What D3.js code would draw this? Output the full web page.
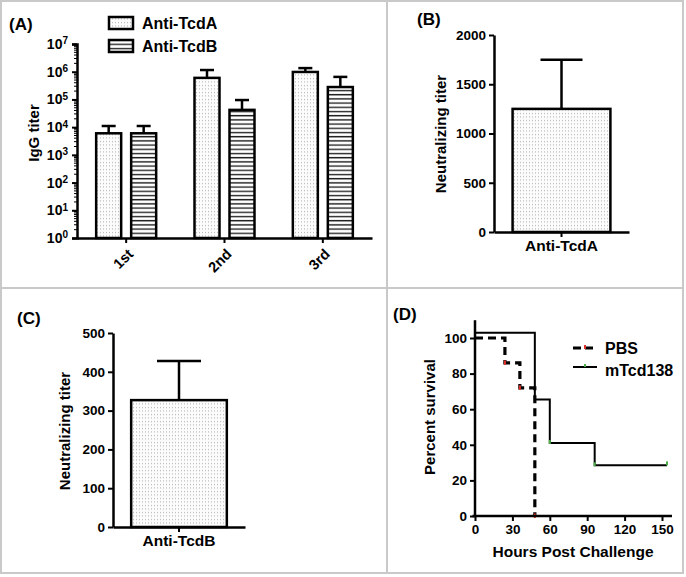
<!DOCTYPE html>
<html><head><meta charset="utf-8">
<script src="https://cdn.jsdelivr.net/npm/d3@7"></script>
<style>body{margin:0;background:#fff}svg text{font-family:"Liberation Sans",Arial,sans-serif}</style>
</head><body><svg id="c" width="686" height="577"></svg>
<script>
// ---------- data ----------
const roundLabels = ["1st", "2nd", "3rd"];
const seriesNames = ["Anti-TcdA", "Anti-TcdB"];
const iggTcdA = [6000, 600000, 980000];
const iggTcdAUpper = [11000, 1150000, 1350000];
const iggTcdB = [6000, 42000, 280000];
const iggTcdBUpper = [11000, 95000, 650000];
const logTickExps = [0, 1, 2, 3, 4, 5, 6, 7];

const neutCatB = ["Anti-TcdA"];
const neutValB = [1250];
const neutUpperB = [1750];
const neutTicksB = [0, 500, 1000, 1500, 2000];

const neutCatC = ["Anti-TcdB"];
const neutValC = [327];
const neutUpperC = [428];
const neutTicksC = [0, 100, 200, 300, 400, 500];

const pbsHours = [0, 24, 36, 48];
const pbsSurvival = [100, 86, 72, 0];
const pbsMarks = [[24, 86], [36, 72], [48, 0]];
const mtcdHours = [0, 48, 60, 96, 154];
const mtcdSurvival = [103, 65.5, 41, 28.5, 28.5];
const mtcdMarks = [[60, 41], [96, 28.5], [154, 29]];
const survXTicks = [0, 30, 60, 90, 120, 150];
const survYTicks = [0, 20, 40, 60, 80, 100];

// ---------- setup ----------
const svg = d3.select("#c");
const defs = svg.append("defs");
const dots = defs.append("pattern").attr("id", "dots").attr("patternUnits", "userSpaceOnUse").attr("width", 3).attr("height", 3.5);
dots.append("rect").attr("width", 3).attr("height", 3.5).attr("fill", "#fcfcfc");
dots.append("rect").attr("x", 1).attr("y", 1).attr("width", 1).attr("height", 1).attr("fill", "#a8a8a8");
const stripes = defs.append("pattern").attr("id", "stripes").attr("patternUnits", "userSpaceOnUse").attr("width", 4).attr("height", 4.2);
stripes.append("rect").attr("width", 4).attr("height", 4.2).attr("fill", "#fff");
stripes.append("rect").attr("y", 1.6).attr("width", 4).attr("height", 1.4).attr("fill", "#222");
const fills = {"Anti-TcdA": "url(#dots)", "Anti-TcdB": "url(#stripes)"};

// frame and dividers
const frameColor = "#c9c9c9";
svg.append("rect").attr("x", 1).attr("y", 1).attr("width", 682).attr("height", 572).attr("fill", "none").attr("stroke", frameColor).attr("stroke-width", 2);
svg.append("line").attr("x1", 1).attr("x2", 683).attr("y1", 288).attr("y2", 288).attr("stroke", frameColor).attr("stroke-width", 2);
svg.append("line").attr("x1", 387).attr("x2", 387).attr("y1", 1).attr("y2", 573).attr("stroke", frameColor).attr("stroke-width", 2);

const AX = 2.5;
function styleAxis(g) {
  g.selectAll("path.domain").attr("stroke", "#000").attr("stroke-width", AX);
  g.selectAll(".tick line").attr("stroke", "#000").attr("stroke-width", 2);
  g.selectAll(".tick text").attr("font-size", 13.5).attr("font-weight", "bold").attr("fill", "#000");
}
function panelLabel(t, x, y) {
  svg.append("text").attr("x", x).attr("y", y).text(t).attr("font-size", 17).attr("font-weight", "bold");
}
function yTitle(t, x, y) {
  svg.append("text").attr("transform", `translate(${x},${y}) rotate(-90)`).attr("text-anchor", "middle")
    .text(t).attr("font-size", 15).attr("font-weight", "bold");
}

// ---------- Panel A ----------
{
  const y = d3.scaleLog().domain([1, 1e7]).range([238, 44]);
  const x0 = d3.scaleBand().domain(roundLabels).range([77, 372]);
  const x1 = d3.scaleBand().domain(seriesNames).range([-30, 30]).paddingInner(0.2857);
  const rows = roundLabels.map((r, i) => ({r, vals: [
    {s: seriesNames[0], v: iggTcdA[i], u: iggTcdAUpper[i]},
    {s: seriesNames[1], v: iggTcdB[i], u: iggTcdBUpper[i]}]}));
  const g = svg.append("g");
  rows.forEach(row => {
    const cx = x0(row.r) + x0.bandwidth() / 2;
    row.vals.forEach(d => {
      const bx = cx + x1(d.s);
      const mx = bx + x1.bandwidth() / 2;
      g.append("line").attr("x1", mx).attr("x2", mx).attr("y1", y(d.v)).attr("y2", y(d.u)).attr("stroke", "#000").attr("stroke-width", 2.5);
      g.append("line").attr("x1", mx - 7).attr("x2", mx + 7).attr("y1", y(d.u)).attr("y2", y(d.u)).attr("stroke", "#000").attr("stroke-width", 2.5);
      g.append("rect").attr("x", bx).attr("y", y(d.v)).attr("width", x1.bandwidth()).attr("height", y(1) - y(d.v))
        .attr("fill", fills[d.s]).attr("stroke", "#000").attr("stroke-width", 2.5);
    });
  });
  // minor ticks
  const minor = [];
  for (let e = 0; e < 7; e++) for (let k = 2; k <= 9; k++) minor.push(k * Math.pow(10, e));
  g.selectAll(".mn").data(minor).join("line").attr("x1", 77).attr("x2", 74).attr("y1", d => y(d)).attr("y2", d => y(d)).attr("stroke", "#000").attr("stroke-width", 1);
  const ya = g.append("g").attr("transform", "translate(77,0)")
    .call(d3.axisLeft(y).tickValues(logTickExps.map(e => Math.pow(10, e))).tickSize(5).tickFormat(() => ""));
  styleAxis(ya);
  ya.selectAll(".tick").each(function(d, i) {
    const t = d3.select(this).append("text").attr("x", -9).attr("dy", "0.32em").attr("text-anchor", "end")
      .attr("font-size", 14).attr("font-weight", "bold").attr("fill", "#000");
    t.append("tspan").text("10");
    t.append("tspan").attr("dy", "-0.45em").attr("font-size", 10).text(logTickExps[i]);
  });
  const xa = g.append("g").attr("transform", "translate(0,238)")
    .call(d3.axisBottom(x0).tickSize(5).tickSizeOuter(0));
  styleAxis(xa);
  xa.selectAll(".tick text").attr("text-anchor", "end").attr("font-size", 14.5)
    .attr("x", 0).attr("y", 0).attr("dy", 0).attr("transform", "translate(8,17) rotate(-45)");
  yTitle("IgG titer", 39, 133);
  panelLabel("(A)", 9, 30);
  // legend
  seriesNames.forEach((s, i) => {
    const ly = 17 + i * 23;
    g.append("rect").attr("x", 109).attr("y", ly).attr("width", 24).attr("height", 12)
      .attr("fill", fills[s]).attr("stroke", "#000").attr("stroke-width", 2.5);
    g.append("text").attr("x", 142).attr("y", ly + 11.5).text(s).attr("font-size", 16).attr("font-weight", "bold");
  });
}

// ---------- single bar panels ----------
function singleBar(cats, vals, uppers, ticks, dom, xr, yr, capHalf) {
  const y = d3.scaleLinear().domain(dom).range(yr);
  const x = d3.scaleBand().domain(cats).range(xr).paddingInner(0).paddingOuter(0.19);
  const g = svg.append("g");
  cats.forEach((c, i) => {
    const mx = x(c) + x.bandwidth() / 2;
    g.append("line").attr("x1", mx).attr("x2", mx).attr("y1", y(vals[i])).attr("y2", y(uppers[i])).attr("stroke", "#000").attr("stroke-width", 2.5);
    g.append("line").attr("x1", mx - capHalf).attr("x2", mx + capHalf).attr("y1", y(uppers[i])).attr("y2", y(uppers[i])).attr("stroke", "#000").attr("stroke-width", 2.5);
    g.append("rect").attr("x", x(c)).attr("y", y(vals[i])).attr("width", x.bandwidth()).attr("height", y(0) - y(vals[i]))
      .attr("fill", "url(#dots)").attr("stroke", "#000").attr("stroke-width", 2.5);
  });
  const ya = g.append("g").attr("transform", `translate(${xr[0]},0)`).call(d3.axisLeft(y).tickValues(ticks).tickSize(5).tickSizeOuter(0).tickFormat(d3.format("d")));
  styleAxis(ya);
  ya.selectAll(".tick text").attr("x", -8);
  const xa = g.append("g").attr("transform", `translate(0,${yr[0]})`).call(d3.axisBottom(x).tickSize(5).tickSizeOuter(0));
  styleAxis(xa);
  xa.selectAll(".tick text").attr("font-size", 15.5).attr("font-weight", "bold").attr("y", 8);
}
singleBar(neutCatB, neutValB, neutUpperB, neutTicksB, [0, 2000], [494, 629], [232, 35], 21);
yTitle("Neutralizing titer", 446, 134);
panelLabel("(B)", 417, 25);

singleBar(neutCatC, neutValC, neutUpperC, neutTicksC, [0, 500], [113, 245], [527, 333], 22);
yTitle("Neutralizing titer", 70, 431);
panelLabel("(C)", 17, 324);

// ---------- Panel D ----------
{
  const x = d3.scaleLinear().domain([0, 150]).range([475, 662]);
  const y = d3.scaleLinear().domain([0, 100]).range([516, 338]);
  const g = svg.append("g");
  const step = d3.line().x(d => x(d[0])).y(d => y(d[1])).curve(d3.curveStepAfter);
  const mt = mtcdHours.map((h, i) => [h, mtcdSurvival[i]]);
  g.append("path").attr("d", step(mt)).attr("fill", "none").attr("stroke", "#000").attr("stroke-width", 2);
  const pb = pbsHours.map((h, i) => [h, pbsSurvival[i]]);
  g.append("path").attr("d", step(pb)).attr("fill", "none").attr("stroke", "#000").attr("stroke-width", 3.2).attr("stroke-dasharray", "8,5");
  g.selectAll(".pm").data(pbsMarks).join("line").attr("x1", d => x(d[0])).attr("x2", d => x(d[0]))
    .attr("y1", d => y(d[1]) - 2.5).attr("y2", d => y(d[1]) + 2).attr("stroke", "#e0312b").attr("stroke-width", 2);
  g.selectAll(".gm").data(mtcdMarks).join("line").attr("x1", d => x(d[0])).attr("x2", d => x(d[0]))
    .attr("y1", d => y(d[1]) - 3).attr("y2", d => y(d[1]) + 1).attr("stroke", "#4cb04a").attr("stroke-width", 2);
  const ya = g.append("g").attr("transform", "translate(475,0)").call(d3.axisLeft(y).tickValues(survYTicks).tickSize(5).tickSizeOuter(0));
  ya.select("path.domain").attr("d", `M0,${y(0)}V${y(110)}`);
  styleAxis(ya);
  ya.selectAll(".tick text").attr("x", -8);
  const xa = g.append("g").attr("transform", "translate(0,516)").call(d3.axisBottom(x).tickValues(survXTicks).tickSize(5).tickSizeOuter(0));
  xa.select("path.domain").attr("d", `M${x(-2)},0H${x(158)}`);
  styleAxis(xa);
  xa.selectAll(".tick text").attr("y", 8);
  svg.append("text").attr("x", 573).attr("y", 557).attr("text-anchor", "middle").text("Hours Post Challenge").attr("font-size", 15.5).attr("font-weight", "bold");
  yTitle("Percent survival", 435, 417);
  panelLabel("(D)", 393, 320);
  // legend
  g.append("line").attr("x1", 573).attr("x2", 597).attr("y1", 348).attr("y2", 348).attr("stroke", "#000").attr("stroke-width", 3).attr("stroke-dasharray", "8,4");
  g.append("line").attr("x1", 585).attr("x2", 585).attr("y1", 345).attr("y2", 349).attr("stroke", "#e0312b").attr("stroke-width", 2);
  g.append("text").attr("x", 605).attr("y", 354).text("PBS").attr("font-size", 16).attr("font-weight", "bold");
  g.append("line").attr("x1", 573).attr("x2", 597).attr("y1", 367).attr("y2", 367).attr("stroke", "#000").attr("stroke-width", 2);
  g.append("line").attr("x1", 585).attr("x2", 585).attr("y1", 364).attr("y2", 367).attr("stroke", "#4cb04a").attr("stroke-width", 2);
  g.append("text").attr("x", 605).attr("y", 376).text("mTcd138").attr("font-size", 16).attr("font-weight", "bold");
}
</script></body></html>
